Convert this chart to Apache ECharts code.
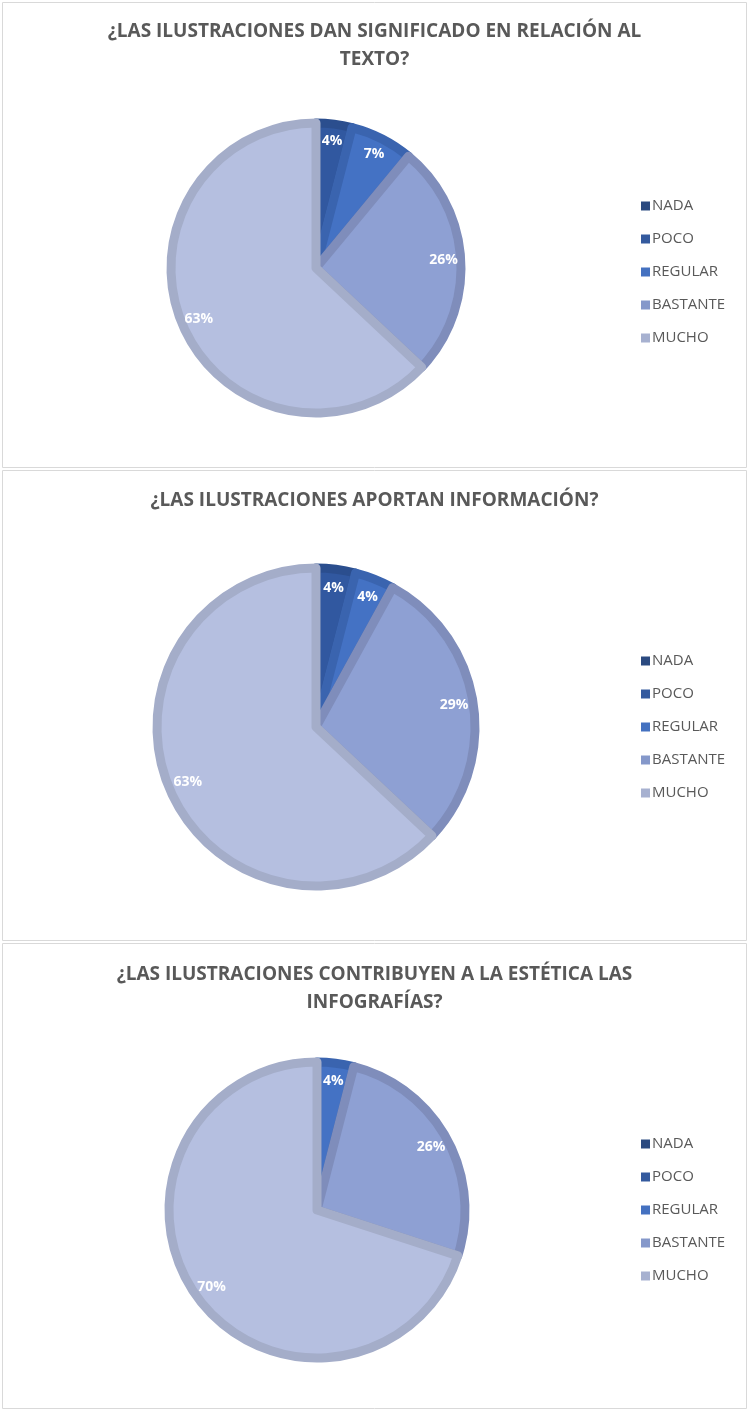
<!DOCTYPE html>
<html>
<head>
<meta charset="utf-8">
<script src="https://cdn.jsdelivr.net/npm/echarts@6/dist/echarts.min.js"></script>
<style>
  html, body { margin: 0; padding: 0; background: #fff; }
  #chart { width: 749px; height: 1410px; }
</style>
</head>
<body>
<div id="chart"></div>
<script>
// Response categories shared by the three questions
const categories = ['NADA', 'POCO', 'REGULAR', 'BASTANTE', 'MUCHO'];

// Percentage of answers per category
const q1Values = [0, 4, 7, 26, 63];
const q2Values = [0, 4, 4, 29, 63];
const q3Values = [0, 0, 4, 26, 70];

const titles = [
  '¿LAS ILUSTRACIONES DAN SIGNIFICADO EN RELACIÓN AL\nTEXTO?',
  '¿LAS ILUSTRACIONES APORTAN INFORMACIÓN?',
  '¿LAS ILUSTRACIONES CONTRIBUYEN A LA ESTÉTICA LAS\nINFOGRAFÍAS?'
];

// Slice fill and outline colours, plus legend swatches
const fillColors   = ['#264478', '#3158A0', '#4472C4', '#8EA0D3', '#B5BFE0'];
const borderColors = ['#203A67', '#2B4E8E', '#3A64AF', '#7F8DBB', '#A4ADC9'];
const legendColors = ['#2B4A80', '#345A9E', '#4471C0', '#8598CA', '#A7B1D0'];

const panels = [
  { values: q1Values, title: titles[0], box: [2, 2, 744, 465], center: [316, 268], r: 145, titleTop: 13, legendTop: 193 },
  { values: q2Values, title: titles[1], box: [2, 470, 744, 470], center: [316, 727], r: 159, titleTop: 482, legendTop: 648 },
  { values: q3Values, title: titles[2], box: [2, 943, 744, 465], center: [317, 1210], r: 148, titleTop: 956, legendTop: 1131 }
];

const fontFamily = '"Open Sans", "Noto Sans", sans-serif';

function sliceData(values, withStyle) {
  return categories.map((name, i) => {
    const item = { name: name, value: values[i] };
    if (withStyle) {
      item.itemStyle = {
        color: fillColors[i],
        borderColor: borderColors[i],
        borderWidth: values[i] > 0 ? 9 : 0
      };
    }
    return item;
  });
}

const option = {
  animation: false,
  title: [],
  legend: [],
  series: [],
  graphic: []
};

panels.forEach((p, k) => {
  option.graphic.push({
    type: 'rect',
    shape: { x: p.box[0] + 0.5, y: p.box[1] + 0.5, width: p.box[2], height: p.box[3] },
    style: { fill: 'none', stroke: '#D9D9D9', lineWidth: 1 },
    z: -1
  });
  option.title.push({
    text: p.title,
    left: 'center',
    top: p.titleTop,
    textStyle: {
      fontFamily: fontFamily,
      fontSize: 19,
      fontWeight: 'bold',
      color: '#595959',
      lineHeight: 28
    }
  });
  option.legend.push({
    data: categories.map((name, i) => ({ name: name, itemStyle: { color: legendColors[i], borderWidth: 0 } })),
    orient: 'vertical',
    left: 636,
    top: p.legendTop,
    itemWidth: 9,
    itemHeight: 9,
    itemGap: 17,
    icon: 'rect',
    textStyle: { fontFamily: fontFamily, fontSize: 15, color: '#595959', lineHeight: 16, padding: [0, 0, 0, -3] },
    seriesIndex: [k * 2]
  });
  // Main pie
  option.series.push({
    type: 'pie',
    center: p.center,
    radius: [0, p.r],
    startAngle: 90,
    clockwise: true,
    legendHoverLink: false,
    label: { show: false },
    labelLine: { show: false },
    emphasis: { disabled: true },
    data: sliceData(p.values, true)
  });
  // Label ring sharing the same values, placing the percentages near the rim
  option.series.push({
    type: 'pie',
    center: p.center,
    radius: [p.r * 0.72, p.r],
    startAngle: 90,
    clockwise: true,
    silent: true,
    itemStyle: { color: 'rgba(0,0,0,0)', borderWidth: 0 },
    label: {
      show: true,
      position: 'inside',
      formatter: (d) => d.value > 0 ? d.value + '%' : '',
      color: '#FFFFFF',
      fontFamily: fontFamily,
      fontSize: 14,
      fontWeight: 'bold'
    },
    labelLine: { show: false },
    emphasis: { disabled: true },
    data: sliceData(p.values, false)
  });
});

const chart = echarts.init(document.getElementById('chart'), null, { renderer: 'canvas' });
chart.setOption(option);
</script>
</body>
</html>
